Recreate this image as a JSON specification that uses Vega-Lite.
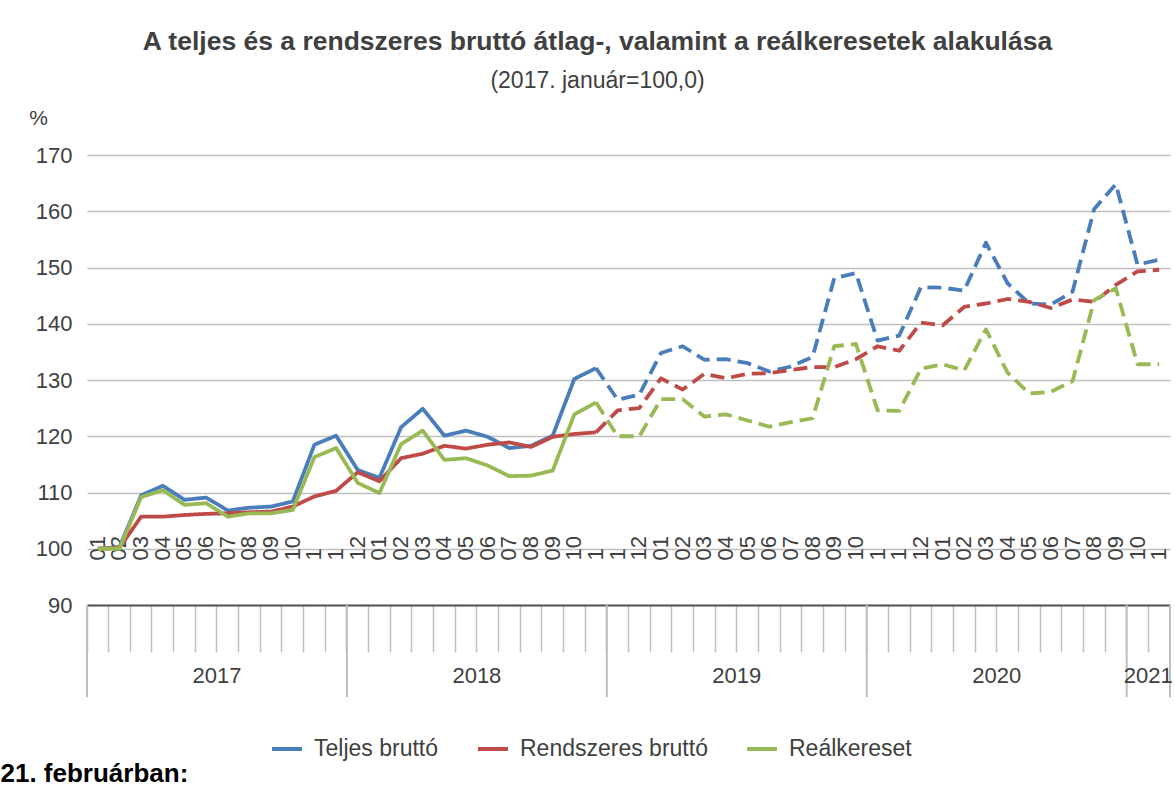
{
  "$schema": "https://vega.github.io/schema/vega-lite/v6.json",
  "width": 1083,
  "height": 450,
  "autosize": {"type": "none"},
  "padding": {"left": 87, "top": 155, "right": 5, "bottom": 184},
  "background": "white",
  "config": {"font": "Liberation Sans", "view": {"stroke": null}},
  "title": {
    "text": "A teljes és a rendszeres bruttó átlag-, valamint a reálkeresetek alakulása",
    "subtitle": "(2017. január=100,0)",
    "anchor": "middle",
    "frame": "group",
    "dx": -31,
    "offset": 14,
    "font": "Liberation Sans",
    "fontSize": 26.5,
    "fontWeight": "bold",
    "color": "#404040",
    "subtitleFont": "Liberation Sans",
    "subtitleFontSize": 23,
    "subtitleColor": "#404040",
    "subtitlePadding": 15
  },
  "datasets": {
    "ertekek": [
      {"i": 0, "p": "a", "Teljes bruttó": 100.0, "Rendszeres bruttó": 100.0, "Reálkereset": 100.0},
      {"i": 1, "p": "a", "Teljes bruttó": 100.3, "Rendszeres bruttó": 100.2, "Reálkereset": 100.0},
      {"i": 2, "p": "a", "Teljes bruttó": 109.5, "Rendszeres bruttó": 105.7, "Reálkereset": 109.2},
      {"i": 3, "p": "a", "Teljes bruttó": 111.2, "Rendszeres bruttó": 105.7, "Reálkereset": 110.4},
      {"i": 4, "p": "a", "Teljes bruttó": 108.7, "Rendszeres bruttó": 106.0, "Reálkereset": 107.8},
      {"i": 5, "p": "a", "Teljes bruttó": 109.1, "Rendszeres bruttó": 106.2, "Reálkereset": 108.1},
      {"i": 6, "p": "a", "Teljes bruttó": 106.8, "Rendszeres bruttó": 106.3, "Reálkereset": 105.7},
      {"i": 7, "p": "a", "Teljes bruttó": 107.3, "Rendszeres bruttó": 106.5, "Reálkereset": 106.3},
      {"i": 8, "p": "a", "Teljes bruttó": 107.5, "Rendszeres bruttó": 106.6, "Reálkereset": 106.3},
      {"i": 9, "p": "a", "Teljes bruttó": 108.4, "Rendszeres bruttó": 107.5, "Reálkereset": 106.9},
      {"i": 10, "p": "a", "Teljes bruttó": 118.5, "Rendszeres bruttó": 109.3, "Reálkereset": 116.3},
      {"i": 11, "p": "a", "Teljes bruttó": 120.1, "Rendszeres bruttó": 110.3, "Reálkereset": 117.9},
      {"i": 12, "p": "a", "Teljes bruttó": 114.0, "Rendszeres bruttó": 113.6, "Reálkereset": 111.7},
      {"i": 13, "p": "a", "Teljes bruttó": 112.6, "Rendszeres bruttó": 112.0, "Reálkereset": 109.9},
      {"i": 14, "p": "a", "Teljes bruttó": 121.6, "Rendszeres bruttó": 116.1, "Reálkereset": 118.6},
      {"i": 15, "p": "a", "Teljes bruttó": 124.9, "Rendszeres bruttó": 116.9, "Reálkereset": 121.0},
      {"i": 16, "p": "a", "Teljes bruttó": 120.1, "Rendszeres bruttó": 118.3, "Reálkereset": 115.8},
      {"i": 17, "p": "a", "Teljes bruttó": 121.0, "Rendszeres bruttó": 117.8, "Reálkereset": 116.1},
      {"i": 18, "p": "a", "Teljes bruttó": 119.9, "Rendszeres bruttó": 118.5, "Reálkereset": 114.8},
      {"i": 19, "p": "a", "Teljes bruttó": 117.9, "Rendszeres bruttó": 118.9, "Reálkereset": 112.9},
      {"i": 20, "p": "a", "Teljes bruttó": 118.3, "Rendszeres bruttó": 118.1, "Reálkereset": 113.0},
      {"i": 21, "p": "a", "Teljes bruttó": 120.1, "Rendszeres bruttó": 119.9, "Reálkereset": 113.9},
      {"i": 22, "p": "a", "Teljes bruttó": 130.2, "Rendszeres bruttó": 120.4, "Reálkereset": 123.9},
      {"i": 23, "p": "a", "Teljes bruttó": 132.1, "Rendszeres bruttó": 120.7, "Reálkereset": 126.0},
      {"i": 23, "p": "b", "Teljes bruttó": 132.1, "Rendszeres bruttó": 120.7, "Reálkereset": 126.0},
      {"i": 24, "p": "b", "Teljes bruttó": 126.5, "Rendszeres bruttó": 124.6, "Reálkereset": 120.0},
      {"i": 25, "p": "b", "Teljes bruttó": 127.4, "Rendszeres bruttó": 125.0, "Reálkereset": 120.0},
      {"i": 26, "p": "b", "Teljes bruttó": 134.8, "Rendszeres bruttó": 130.3, "Reálkereset": 126.6},
      {"i": 27, "p": "b", "Teljes bruttó": 136.0, "Rendszeres bruttó": 128.3, "Reálkereset": 126.6},
      {"i": 28, "p": "b", "Teljes bruttó": 133.6, "Rendszeres bruttó": 131.1, "Reálkereset": 123.5},
      {"i": 29, "p": "b", "Teljes bruttó": 133.7, "Rendszeres bruttó": 130.3, "Reálkereset": 123.9},
      {"i": 30, "p": "b", "Teljes bruttó": 133.0, "Rendszeres bruttó": 131.1, "Reálkereset": 122.8},
      {"i": 31, "p": "b", "Teljes bruttó": 131.5, "Rendszeres bruttó": 131.2, "Reálkereset": 121.7},
      {"i": 32, "p": "b", "Teljes bruttó": 132.4, "Rendszeres bruttó": 131.8, "Reálkereset": 122.5},
      {"i": 33, "p": "b", "Teljes bruttó": 134.1, "Rendszeres bruttó": 132.3, "Reálkereset": 123.2},
      {"i": 34, "p": "b", "Teljes bruttó": 148.1, "Rendszeres bruttó": 132.3, "Reálkereset": 136.0},
      {"i": 35, "p": "b", "Teljes bruttó": 149.0, "Rendszeres bruttó": 133.7, "Reálkereset": 136.4},
      {"i": 36, "p": "b", "Teljes bruttó": 137.0, "Rendszeres bruttó": 136.0, "Reálkereset": 124.6},
      {"i": 37, "p": "b", "Teljes bruttó": 137.9, "Rendszeres bruttó": 135.2, "Reálkereset": 124.5},
      {"i": 38, "p": "b", "Teljes bruttó": 146.5, "Rendszeres bruttó": 140.2, "Reálkereset": 132.0},
      {"i": 39, "p": "b", "Teljes bruttó": 146.4, "Rendszeres bruttó": 139.7, "Reálkereset": 132.8},
      {"i": 40, "p": "b", "Teljes bruttó": 145.9, "Rendszeres bruttó": 143.0, "Reálkereset": 131.7},
      {"i": 41, "p": "b", "Teljes bruttó": 154.4, "Rendszeres bruttó": 143.6, "Reálkereset": 139.0},
      {"i": 42, "p": "b", "Teljes bruttó": 147.2, "Rendszeres bruttó": 144.4, "Reálkereset": 131.3},
      {"i": 43, "p": "b", "Teljes bruttó": 143.6, "Rendszeres bruttó": 143.9, "Reálkereset": 127.6},
      {"i": 44, "p": "b", "Teljes bruttó": 143.4, "Rendszeres bruttó": 142.8, "Reálkereset": 127.9},
      {"i": 45, "p": "b", "Teljes bruttó": 145.7, "Rendszeres bruttó": 144.3, "Reálkereset": 129.8},
      {"i": 46, "p": "b", "Teljes bruttó": 160.4, "Rendszeres bruttó": 143.9, "Reálkereset": 144.2},
      {"i": 47, "p": "b", "Teljes bruttó": 164.8, "Rendszeres bruttó": 146.9, "Reálkereset": 146.3},
      {"i": 48, "p": "b", "Teljes bruttó": 150.5, "Rendszeres bruttó": 149.3, "Reálkereset": 132.8},
      {"i": 49, "p": "b", "Teljes bruttó": 151.4, "Rendszeres bruttó": 149.6, "Reálkereset": 132.8}
    ],
    "evek": [
      {"ev": "2017", "i": 6},
      {"ev": "2018", "i": 18},
      {"ev": "2019", "i": 30},
      {"ev": "2020", "i": 42},
      {"ev": "2021", "i": 49}
    ],
    "hatarok": [
      {"i": 0}, {"i": 12}, {"i": 24}, {"i": 36}, {"i": 48}
    ],
    "veg": [
      {"i": 49}
    ]
  },
  "layer": [
    {
      "data": {"name": "ertekek"},
      "transform": [
        {"fold": ["Teljes bruttó", "Rendszeres bruttó", "Reálkereset"], "as": ["sorozat", "ertek"]}
      ],
      "mark": {"type": "line", "strokeWidth": 3.8, "strokeCap": "butt", "strokeJoin": "round"},
      "encoding": {
        "x": {
          "field": "i",
          "type": "ordinal",
          "scale": {"type": "band", "paddingInner": 0, "paddingOuter": 0},
          "axis": {
            "orient": "bottom",
            "title": "21. februárban:",
            "titleX": -87,
            "titleY": 168,
            "titleAlign": "left",
            "titleBaseline": "middle",
            "titleFont": "Liberation Sans",
            "titleFontSize": 26,
            "titleFontWeight": "bold",
            "titleColor": "#000000",
            "labelExpr": "['01','02','03','04','05','06','07','08','09','10','1','1','12'][datum.value % 13]",
            "labelAngle": 270,
            "labelAlign": "left",
            "labelBaseline": "middle",
            "labelPadding": -92,
            "labelFontSize": 22,
            "labelColor": "#404040",
            "labelOverlap": false,
            "labelBound": false,
            "ticks": true,
            "tickSize": 47,
            "tickColor": "#bfbfbf",
            "tickWidth": 1.5,
            "bandPosition": 0,
            "domain": true,
            "domainColor": "#555555",
            "domainWidth": 2,
            "grid": false
          }
        },
        "y": {
          "field": "ertek",
          "type": "quantitative",
          "scale": {"domain": [90, 170], "nice": false, "zero": false},
          "axis": {
            "values": [90, 100, 110, 120, 130, 140, 150, 160, 170],
            "title": "%",
            "titleAngle": 0,
            "titleX": -49,
            "titleY": -37,
            "titleAlign": "center",
            "titleBaseline": "middle",
            "titleFontSize": 21,
            "titleFontWeight": "normal",
            "titleColor": "#404040",
            "labelFontSize": 22,
            "labelColor": "#404040",
            "labelPadding": 15,
            "ticks": false,
            "domain": false,
            "grid": true,
            "gridColor": "#bfbfbf",
            "gridWidth": 1.5
          }
        },
        "color": {
          "field": "sorozat",
          "type": "nominal",
          "scale": {
            "domain": ["Teljes bruttó", "Rendszeres bruttó", "Reálkereset"],
            "range": ["#4a7ebb", "#be4b48", "#98b954"]
          },
          "legend": {
            "orient": "none",
            "legendX": 183,
            "legendY": 577,
            "direction": "horizontal",
            "title": null,
            "symbolType": "stroke",
            "symbolSize": 900,
            "symbolStrokeWidth": 4,
            "labelFont": "Liberation Sans",
            "labelFontSize": 23,
            "labelColor": "#404040",
            "labelOffset": 10,
            "columnPadding": 31,
            "labelLimit": 400
          }
        },
        "strokeDash": {
          "field": "p",
          "type": "nominal",
          "scale": {"domain": ["a", "b"], "range": [[1, 0], [14, 7]]},
          "legend": null
        }
      }
    },
    {
      "data": {"name": "hatarok"},
      "mark": {"type": "rule", "color": "#bfbfbf", "strokeWidth": 2},
      "encoding": {
        "x": {"field": "i", "type": "ordinal", "bandPosition": 0},
        "y": {"datum": 90},
        "y2": {"datum": 73.6}
      }
    },
    {
      "data": {"name": "veg"},
      "mark": {"type": "rule", "color": "#bfbfbf", "strokeWidth": 2},
      "encoding": {
        "x": {"field": "i", "type": "ordinal", "bandPosition": 1},
        "y": {"datum": 90},
        "y2": {"datum": 73.6}
      }
    },
    {
      "data": {"name": "evek"},
      "mark": {"type": "text", "fontSize": 22, "color": "#404040", "align": "center", "baseline": "middle", "font": "Liberation Sans"},
      "encoding": {
        "x": {"field": "i", "type": "ordinal", "bandPosition": 0},
        "y": {"datum": 77.4},
        "text": {"field": "ev"}
      }
    }
  ]
}
